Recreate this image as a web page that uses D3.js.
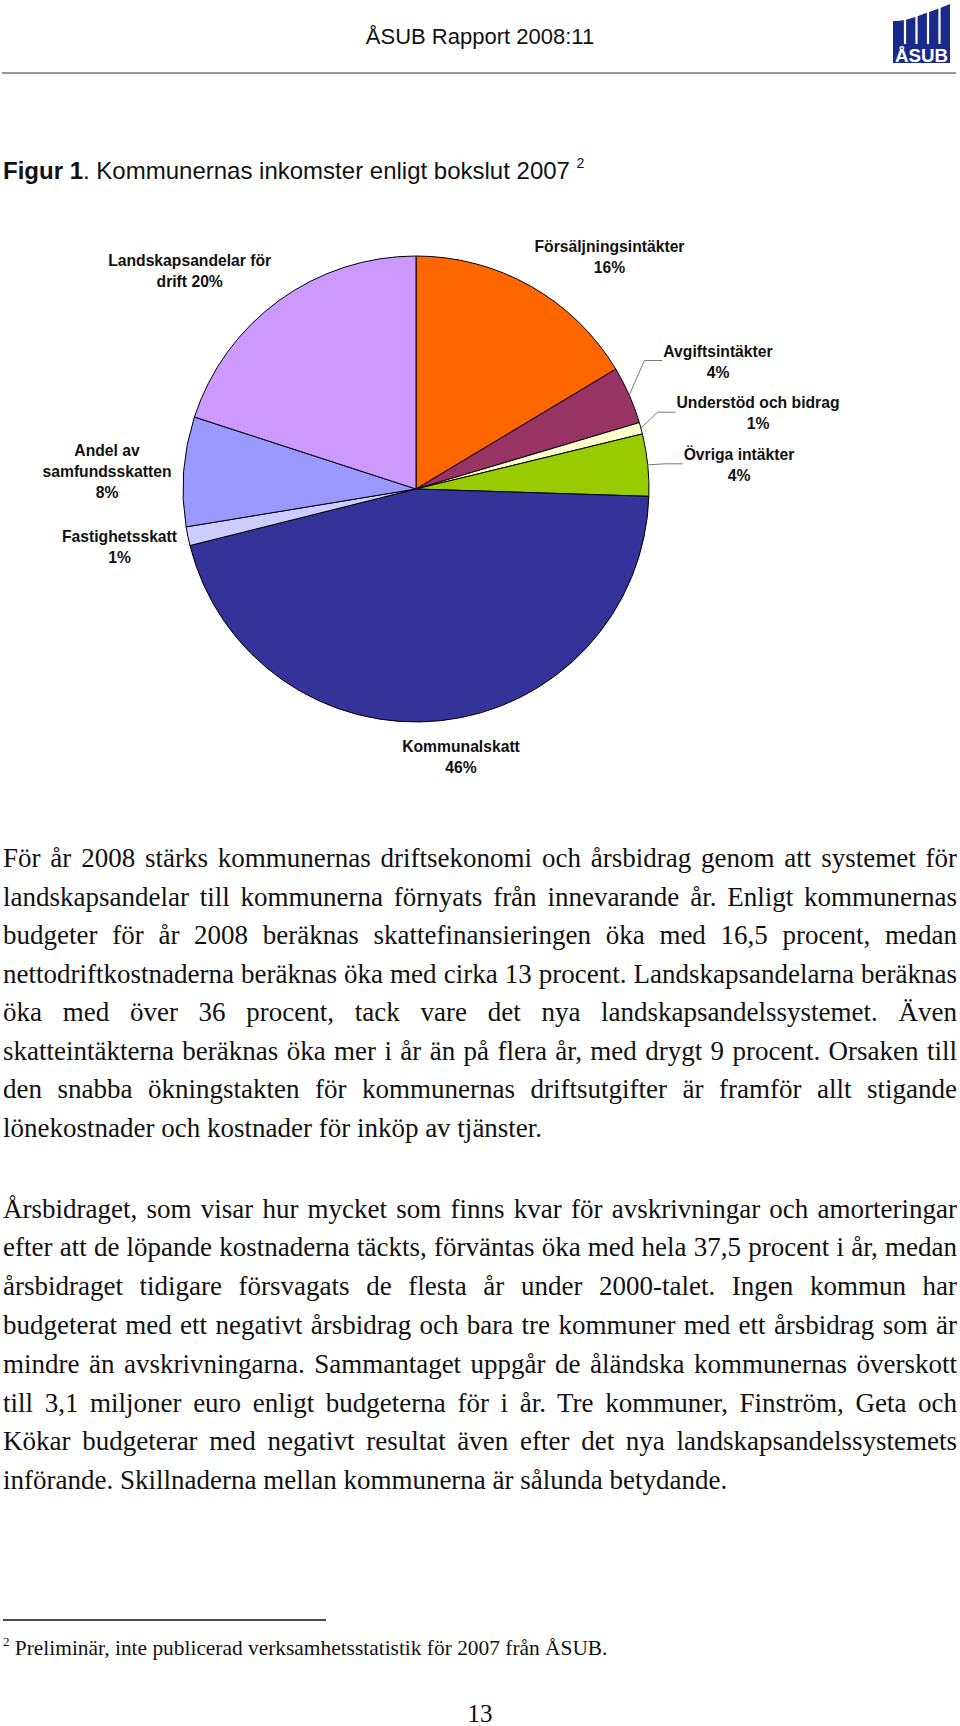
<!DOCTYPE html>
<html>
<head>
<meta charset="utf-8">
<script src="https://cdn.jsdelivr.net/npm/d3@7"></script>
<style>
html,body{margin:0;padding:0;background:#fff;}
svg{display:block;}
</style>
</head>
<body>
<script>
// ---------- data ----------
const categories = [
  "Försäljningsintäkter",
  "Avgiftsintäkter",
  "Understöd och bidrag",
  "Övriga intäkter",
  "Kommunalskatt",
  "Fastighetsskatt",
  "Andel av samfundsskatten",
  "Landskapsandelar för drift"
];
const values = [16.4, 4.0, 0.8, 4.3, 45.6, 1.3, 7.6, 20.0];
const percentLabels = ["16%", "4%", "1%", "4%", "46%", "1%", "8%", "20%"];
const palette = ["#FF6600", "#993366", "#FFFFCC", "#99CC00", "#333399", "#CCCCFF", "#9999FF", "#CC99FF"];

const headerText = "ÅSUB Rapport 2008:11";
const figureBold = "Figur 1";
const figureText = ". Kommunernas inkomster enligt bokslut 2007 ";
const figureNote = "2";

const paragraph1 = [
  "För år 2008 stärks kommunernas driftsekonomi och årsbidrag genom att systemet för",
  "landskapsandelar till kommunerna förnyats från innevarande år. Enligt kommunernas",
  "budgeter för år 2008 beräknas skattefinansieringen öka med 16,5 procent, medan",
  "nettodriftkostnaderna beräknas öka med cirka 13 procent. Landskapsandelarna beräknas",
  "öka med över 36 procent, tack vare det nya landskapsandelssystemet. Även",
  "skatteintäkterna beräknas öka mer i år än på flera år, med drygt 9 procent. Orsaken till",
  "den snabba ökningstakten för kommunernas driftsutgifter är framför allt stigande",
  "lönekostnader och kostnader för inköp av tjänster."
];
const paragraph2 = [
  "Årsbidraget, som visar hur mycket som finns kvar för avskrivningar och amorteringar",
  "efter att de löpande kostnaderna täckts, förväntas öka med hela 37,5 procent i år, medan",
  "årsbidraget tidigare försvagats de flesta år under 2000-talet. Ingen kommun har",
  "budgeterat med ett negativt årsbidrag och bara tre kommuner med ett årsbidrag som är",
  "mindre än avskrivningarna. Sammantaget uppgår de åländska kommunernas överskott",
  "till 3,1 miljoner euro enligt budgeterna för i år. Tre kommuner, Finström, Geta och",
  "Kökar budgeterar med negativt resultat även efter det nya landskapsandelssystemets",
  "införande. Skillnaderna mellan kommunerna är sålunda betydande."
];
const footnoteNumber = "2";
const footnoteText = " Preliminär, inte publicerad verksamhetsstatistik för 2007 från ÅSUB.";
const pageNumber = "13";

// ---------- layout ----------
const W = 960, H = 1726;
const SANS = "'Liberation Sans', Arial, sans-serif";
const SERIF = "'Liberation Serif', 'Times New Roman', serif";

const svg = d3.select("body").append("svg")
  .attr("width", W).attr("height", H)
  .attr("viewBox", `0 0 ${W} ${H}`);

// header
svg.append("text")
  .attr("x", 480).attr("y", 44)
  .attr("text-anchor", "middle")
  .attr("font-family", SANS).attr("font-size", 22)
  .attr("fill", "#111")
  .text(headerText);

// logo
const logo = svg.append("g");
logo.append("path")
  .attr("d", "M893,21 C902,21 910,19 918,16 C928,12 938,9 950,4 L950,63 L893,63 Z")
  .attr("fill", "#1a2a8c");
[905, 916.5, 928, 939.5].forEach(x => {
  logo.append("line").attr("x1", x).attr("x2", x).attr("y1", 0).attr("y2", 44)
    .attr("stroke", "#fff").attr("stroke-width", 2.2);
});
logo.append("text")
  .attr("x", 895).attr("y", 62)
  .attr("textLength", 53).attr("lengthAdjust", "spacingAndGlyphs")
  .attr("font-family", SANS).attr("font-weight", "bold").attr("font-size", 19)
  .attr("fill", "#fff").text("ÅSUB");

// header rule
svg.append("line")
  .attr("x1", 2).attr("x2", 956).attr("y1", 73).attr("y2", 73)
  .attr("stroke", "#333").attr("stroke-width", 1.2);

// figure title
const title = svg.append("text")
  .attr("x", 3).attr("y", 179)
  .attr("font-family", SANS).attr("font-size", 24).attr("fill", "#111");
title.append("tspan").attr("font-weight", "bold").text(figureBold);
title.append("tspan").text(figureText);
title.append("tspan").attr("font-size", 14).attr("dy", -11).text(figureNote);

// ---------- pie ----------
const cx = 416, cy = 489, R = 233;
const color = d3.scaleOrdinal(categories, palette);
const pie = d3.pie().sort(null).value(d => d)(values);
const arc = d3.arc().innerRadius(0).outerRadius(R);

const g = svg.append("g").attr("transform", `translate(${cx},${cy})`);
g.selectAll("path.slice").data(pie).join("path")
  .attr("class", "slice")
  .attr("d", arc)
  .attr("fill", (d, i) => color(categories[i]))
  .attr("stroke", "#000").attr("stroke-width", 1)
  .attr("stroke-linejoin", "round");

// label layout: centre x, first line centre y, word grouping per line
const labelLayout = [
  {x: 609.5, y: 246,   groups: [1, 1]},
  {x: 718,   y: 351,   groups: [1, 1], leader: true},
  {x: 758,   y: 402.7, groups: [3, 1], leader: true},
  {x: 739,   y: 454.3, groups: [2, 1], leader: true},
  {x: 461,   y: 746.7, groups: [1, 1]},
  {x: 119.5, y: 536,   groups: [1, 1]},
  {x: 107,   y: 450.7, groups: [2, 1, 1]},
  {x: 189.7, y: 260.7, groups: [2, 2]}
];
const LH = 21, LFS = 15.7;

const labels = svg.append("g")
  .attr("font-family", SANS).attr("font-weight", "bold")
  .attr("font-size", LFS).attr("fill", "#111")
  .attr("text-anchor", "middle");

categories.forEach((cat, i) => {
  const lay = labelLayout[i];
  const words = (cat + " " + percentLabels[i]).split(" ");
  const lines = [];
  let k = 0;
  lay.groups.forEach(n => { lines.push(words.slice(k, k + n).join(" ")); k += n; });
  const t = labels.append("text");
  lines.forEach((ln, j) => {
    t.append("tspan").attr("x", lay.x).attr("y", lay.y + j * LH)
      .attr("dominant-baseline", "central").text(ln);
  });
  if (lay.leader) {
    const a = (pie[i].startAngle + pie[i].endAngle) / 2;
    const sx = cx + R * Math.sin(a), sy = cy - R * Math.cos(a);
    let fl = 0;
    t.selectAll("tspan").each(function(d, j) { if (j === 0) fl = this.getComputedTextLength(); });
    const endX = lay.x - fl / 2 - 1;
    const ly = lay.y + 9.5;
    const elbowX = Math.max(sx + 3, endX - 18);
    svg.append("path")
      .attr("d", `M${sx},${sy}L${elbowX},${ly}L${endX},${ly}`)
      .attr("fill", "none").attr("stroke", "#777").attr("stroke-width", 1);
  }
});

// ---------- body text ----------
const TX0 = 3, TX1 = 957, BFS = 27;
function paragraph(lines, y0, lh) {
  const gp = svg.append("g").attr("font-family", SERIF).attr("font-size", BFS).attr("fill", "#111");
  lines.forEach((ln, i) => {
    const t = gp.append("text").attr("x", TX0).attr("y", y0 + i * lh).text(ln);
    if (i < lines.length - 1) {
      const nat = t.node().getComputedTextLength();
      const spaces = (ln.match(/ /g) || []).length;
      if (spaces > 0) t.attr("word-spacing", ((TX1 - TX0) - nat) / spaces);
    }
  });
}
paragraph(paragraph1, 867, 38.5);
paragraph(paragraph2, 1217.5, 38.8);

// ---------- footnote ----------
svg.append("line")
  .attr("x1", 3).attr("x2", 326).attr("y1", 1620).attr("y2", 1620)
  .attr("stroke", "#111").attr("stroke-width", 1.3);
const fn = svg.append("text")
  .attr("x", 3).attr("y", 1655)
  .attr("font-family", SERIF).attr("font-size", 21.4).attr("fill", "#111");
fn.append("tspan").attr("font-size", 13).attr("dy", -9).text(footnoteNumber);
fn.append("tspan").attr("dy", 9).text(footnoteText);

svg.append("text")
  .attr("x", 480).attr("y", 1722)
  .attr("text-anchor", "middle")
  .attr("font-family", SERIF).attr("font-size", 25).attr("fill", "#111")
  .text(pageNumber);
</script>
</body>
</html>
